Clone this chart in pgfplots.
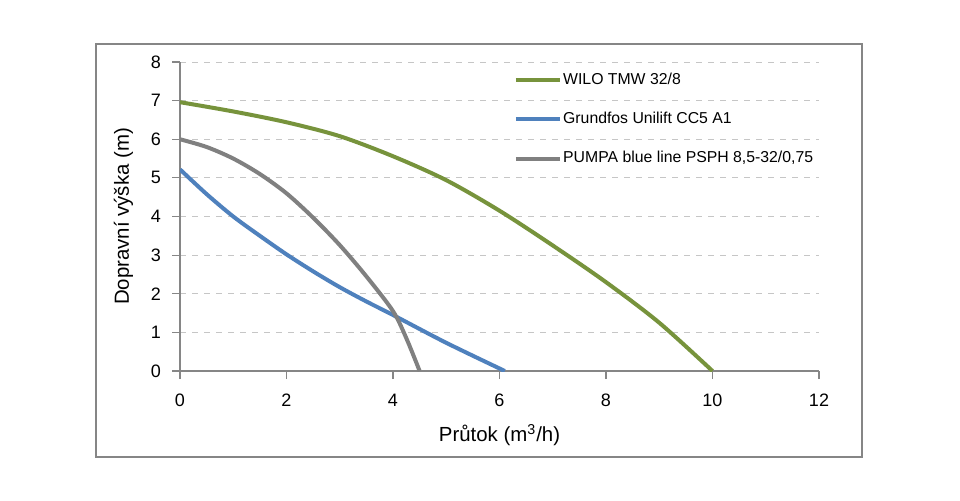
\documentclass[border=0pt]{standalone}
\usepackage{pgfplots}
\pgfplotsset{compat=1.18}
\usepackage{fontspec}
\setmainfont{Liberation Sans}
\definecolor{wilo}{RGB}{119,147,60}
\definecolor{grund}{RGB}{79,129,189}
\definecolor{pumpa}{RGB}{128,128,128}
\definecolor{axgray}{RGB}{134,134,134}
\begin{document}
\begin{tikzpicture}
\path[use as bounding box] (0,0) rectangle (480pt,250pt);
\fill[white] (0,0) rectangle (480pt,250pt);
\draw[axgray, line width=1pt] (48pt,21.5pt) rectangle (431pt,228pt);
\begin{axis}[
  at={(90pt,64.5pt)}, anchor=south west,
  scale only axis, width=319.5pt, height=154.5pt,
  xmin=0, xmax=12, ymin=0, ymax=8,
  xtick={0,2,...,12}, ytick={0,1,...,8},
  axis lines*=left,
  axis line style={axgray, line width=0.6pt, -},
  tick style={axgray, line width=0.6pt},
  tick align=outside,
  major tick length=4pt,
  ymajorgrids,
  grid style={dashed, gray!45, line width=0.4pt},
  /pgf/number format/assume math mode=true,
  ticklabel style={font=\fontsize{9pt}{10pt}\selectfont, black},
  xticklabel style={yshift=-4pt},
  yticklabel style={xshift=-2pt},
  xlabel={Průtok (m\textsuperscript{3}/h)},
  ylabel={Dopravní výška (m)},
  label style={font=\fontsize{10.2pt}{11pt}\selectfont},
  xlabel style={yshift=-2pt},
  ylabel style={yshift=2pt},
  legend style={at={(rel axis cs:0.522,0.969)}, anchor=north west,
    draw=none, fill=none, font=\fontsize{7.9pt}{9pt}\selectfont,
    row sep=11.1pt, inner sep=0pt, nodes={inner sep=0.6pt}},
  legend cell align=left,
  legend image code/.code={\draw[#1] (0pt,0pt) -- (22pt,0pt);},
  every axis plot/.append style={line width=2pt, smooth},
]
\addplot[wilo] coordinates {(0,6.96) (1,6.72) (2,6.44) (3,6.08) (4,5.56) (5,4.94) (6,4.15) (7,3.25) (8,2.3) (9,1.25) (10,0)};
\addlegendentry{WILO TMW 32/8}
\addplot[grund] coordinates {(0,5.22) (0.5,4.58) (1,4.0) (1.5,3.5) (2,3.02) (2.5,2.58) (3,2.17) (3.5,1.8) (4,1.45) (5,0.73) (6.1,0)};
\addlegendentry{Grundfos Unilift CC5 A1}
\addplot[pumpa] coordinates {(0,6.0) (0.5,5.8) (1,5.5) (1.5,5.1) (2,4.6) (2.5,3.97) (3,3.26) (3.5,2.45) (4,1.55) (4.25,0.85) (4.5,0)};
\addlegendentry{PUMPA blue line PSPH 8,5-32/0,75}
\end{axis}
\end{tikzpicture}
\end{document}
